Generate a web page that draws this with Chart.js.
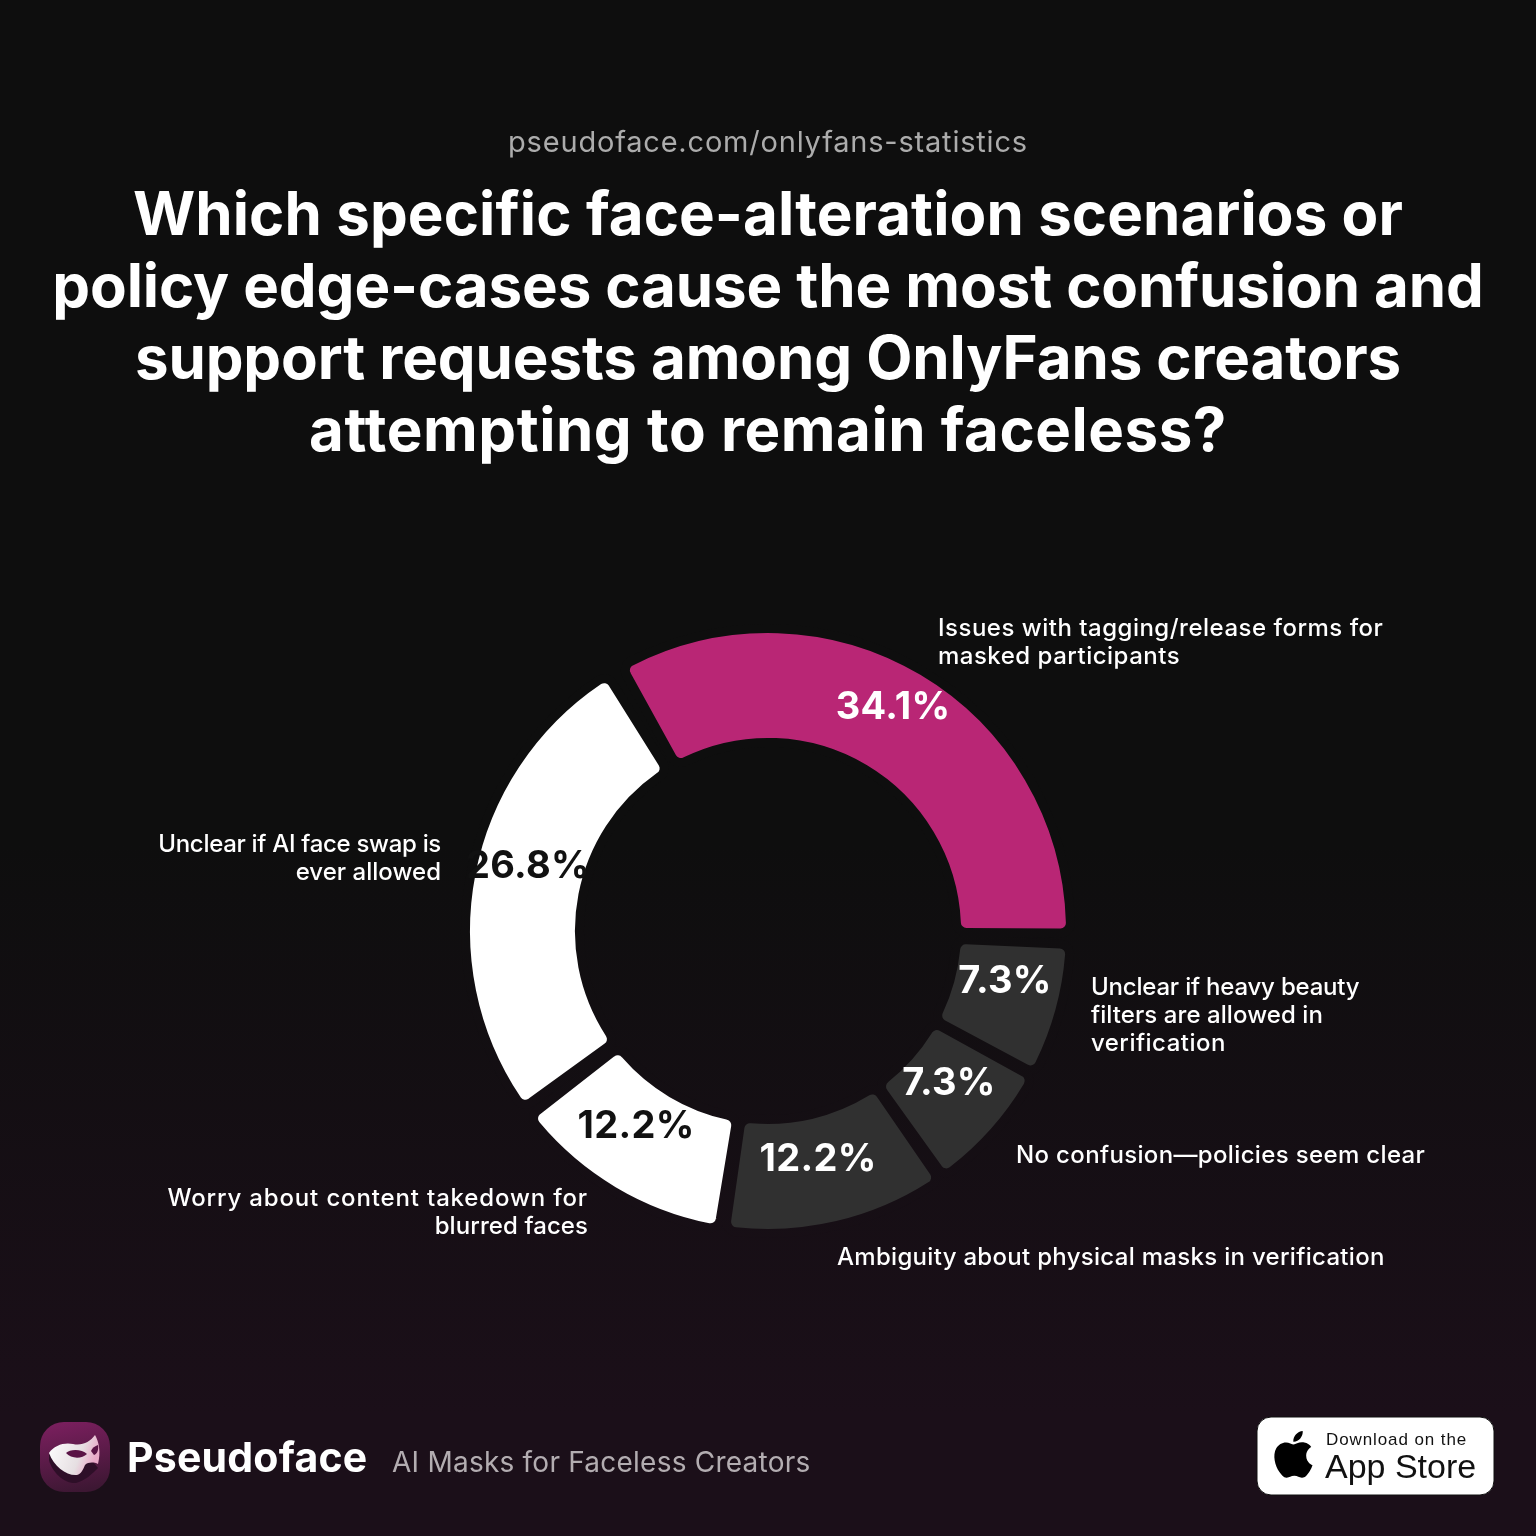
<!DOCTYPE html>
<html><head><meta charset="utf-8">
<script src="https://cdn.jsdelivr.net/npm/chart.js@4"></script>
<style>
html,body{margin:0;padding:0;background:#0e0e0e}
#page{position:relative;width:1536px;height:1536px;overflow:hidden;background:linear-gradient(180deg,#0e0e0e 0%,#0e0e0e 55%,#1b0f19 92%,#1b0f19 100%);font-family:Inter,sans-serif}
#page div{position:absolute;white-space:nowrap}
canvas{position:absolute;left:0;top:0}
.t{left:0;width:1536px;text-align:center;color:#fff;font-weight:700;font-size:60px;line-height:72px;letter-spacing:-.1px}
</style></head><body>
<div id="page">
<canvas id="c" width="1536" height="1536"></canvas>
<div style="left:0;width:1536px;top:124px;text-align:center;color:#acacac;font-size:29px;line-height:36px;letter-spacing:.8px">pseudoface.com/onlyfans-statistics</div>
<div class="t" style="top:177px;letter-spacing:.09px">Which specific face-alteration scenarios or</div>
<div class="t" style="top:249px">policy edge-cases cause the most confusion and</div>
<div class="t" style="top:321px">support requests among OnlyFans creators</div>
<div class="t" style="top:393px;letter-spacing:.53px">attempting to remain faceless?</div>
<svg style="position:absolute;left:40px;top:1422px" width="70" height="70" viewBox="0 0 70 70">
<defs><linearGradient id="g" x1="0.3" y1="0" x2="0.5" y2="1"><stop offset="0" stop-color="#7a1f5e"/><stop offset="1" stop-color="#3d1733"/></linearGradient>
<linearGradient id="m" x1="0" y1="0" x2="1" y2="0.3"><stop offset="0" stop-color="#fff"/><stop offset="0.7" stop-color="#e6dfe2"/><stop offset="1" stop-color="#e9a9c8"/></linearGradient></defs>
<rect width="70" height="70" rx="24" fill="url(#g)"/>
<path d="M9 38 C12 50 24 62 36 61 C46 58 52 52 58 46 L50 36 L9 32Z" fill="#2e0f28"/>
<path d="M9 31 C14 23 25 20 33 22 C42 24 50 20 55 13 C59 20 61 30 58 42 C54 40 48 40 45 43 C43 48 41 52 37 53 C27 54 14 45 9 31Z" fill="url(#m)"/>
<path d="M26 31 C30 27 42 27 47 32 C42 37 31 37 26 31Z" fill="#5a1446"/>
<path d="M51 29 C52 26 55 24 58 23 C59 28 57 32 54 33Z" fill="#5a1446"/>
</svg>
<div style="left:127px;top:1432px;color:#fff;font-weight:700;font-size:41px;line-height:50px;letter-spacing:.2px">Pseudoface</div>
<div style="left:392px;top:1444px;color:#b3adb1;font-size:28px;line-height:36px;letter-spacing:.23px">AI Masks for Faceless Creators</div>
<svg style="position:absolute;left:1256px;top:1416px" width="240" height="80"><rect x="1" y="1" width="237" height="78" rx="14" fill="#fff" stroke="#111" stroke-width="1"/>
<g transform="translate(14,15) scale(1.95)"><path fill="#000" d="M12.152 6.896c-.948 0-2.415-1.078-3.96-1.04-2.04.027-3.91 1.183-4.961 3.014-2.117 3.675-.546 9.103 1.519 12.09 1.013 1.454 2.208 3.09 3.792 3.039 1.52-.065 2.09-.987 3.935-.987 1.831 0 2.35.987 3.96.948 1.637-.026 2.676-1.48 3.676-2.948 1.156-1.688 1.636-3.325 1.662-3.415-.039-.013-3.182-1.221-3.22-4.857-.026-3.04 2.48-4.494 2.597-4.559-1.429-2.09-3.623-2.324-4.39-2.376-2-.156-3.675 1.09-4.61 1.09zM15.53 3.83c.843-1.012 1.4-2.427 1.245-3.83-1.207.052-2.662.805-3.532 1.818-.78.896-1.454 2.338-1.273 3.714 1.338.104 2.715-.688 3.559-1.701"/></g></svg>
<div style="left:1326px;top:1429px;color:#111;font-size:17px;line-height:22px;letter-spacing:.9px;font-family:'Liberation Sans'">Download on the</div>
<div style="left:1325px;top:1445px;color:#111;font-size:34px;line-height:42px;font-family:'Liberation Sans'">App Store</div>
</div>
<script>
const categories = [
 ["Issues with tagging/release forms for","masked participants"],
 ["Unclear if heavy beauty","filters are allowed in","verification"],
 ["No confusion—policies seem clear"],
 ["Ambiguity about physical masks in verification"],
 ["Worry about content takedown for","blurred faces"],
 ["Unclear if AI face swap is","ever allowed"]
];
const values = [34.1,7.3,7.3,12.2,12.2,26.8];
const sliceColors = ["#b92675","#303030","#303030","#303030","#ffffff","#ffffff"];
const valueTextColors = ["#ffffff","#ffffff","#ffffff","#ffffff","#111111","#111111"];
const valueAnchors = [[893,708],[1005,982],[949,1084],[818,1160],[636,1127],[528,867]];
const labelAnchors = [[938,629,"left"],[1091,988,"left"],[1016,1156,"left"],[837,1258,"left"],[588,1199,"right"],[441,845,"right"]];
const labelTracking = [[.5,.5],[-.2,.07,.47],[.35],[.3],[.85,.08],[-.3,.03]];

const canvas=document.getElementById("c");
const bgGrad=canvas.getContext("2d").createLinearGradient(0,0,0,1536);
bgGrad.addColorStop(0,"#0e0e0e");bgGrad.addColorStop(.55,"#0e0e0e");bgGrad.addColorStop(.92,"#1b0f19");bgGrad.addColorStop(1,"#1b0f19");

const textPlugin = {id:"texts",afterDatasetsDraw(chart){
  const ctx=chart.ctx;ctx.save();
  ctx.textBaseline="middle";
  ctx.font="700 38px Inter";ctx.letterSpacing="0.3px";ctx.textAlign="center";
  values.forEach((v,i)=>{ctx.fillStyle=valueTextColors[i];ctx.fillText(v.toFixed(1)+"%",valueAnchors[i][0],valueAnchors[i][1]);});
  ctx.font="500 24px Inter";ctx.fillStyle="#ffffff";
  categories.forEach((lines,i)=>{const a=labelAnchors[i];ctx.textAlign=a[2];
    lines.forEach((s,j)=>{ctx.letterSpacing=labelTracking[i][j]+"px";ctx.fillText(s,a[0],a[1]+j*28);});});
  ctx.restore();
}};
new Chart(canvas,{type:"doughnut",
 data:{labels:categories.map(l=>l.join(" ")),datasets:[{data:values,backgroundColor:sliceColors,borderWidth:9,borderColor:bgGrad,borderRadius:10,spacing:14,hoverOffset:0}]},
 options:{responsive:false,animation:false,rotation:-30.7,cutout:208,radius:295.5,
  layout:{padding:{left:418,right:418,top:565,bottom:239}},
  plugins:{legend:{display:false},tooltip:{enabled:false}}},
 plugins:[textPlugin]});
</script>
</body></html>
